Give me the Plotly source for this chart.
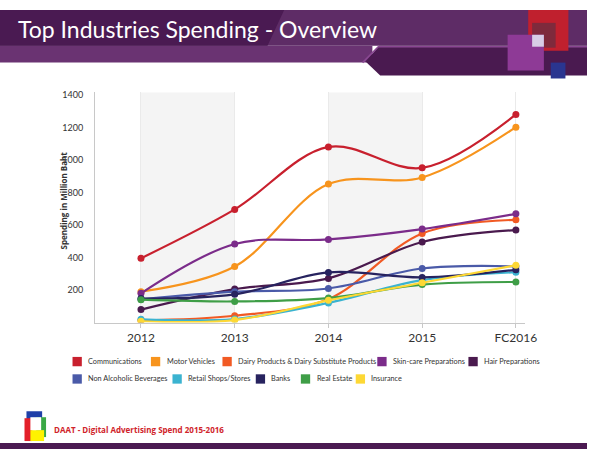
import plotly.graph_objects as go

# data (million baht)
years = ["2012", "2013", "2014", "2015", "FC2016"]

communications = [396, 697, 1082, 953, 1282]
motor_vehicles = [190, 345, 853, 894, 1204]
dairy_products = [14, 42, 145, 549, 633]
skin_care = [180, 484, 512, 576, 670]
hair_preparations = [80, 206, 272, 496, 570]
non_alcoholic = [143, 190, 210, 333, 346]
retail_shops = [20, 22, 121, 261, 310]
banks = [148, 174, 309, 278, 325]
real_estate = [141, 130, 151, 234, 250]
insurance = [8, 15, 137, 245, 353]

names = ["Communications", "Motor Vehicles", "Dairy Products & Dairy Substitute Products",
         "Skin-care Preparations", "Hair Preparations", "Non Alcoholic Beverages",
         "Retail Shops/Stores", "Banks", "Real Estate", "Insurance"]
series = [communications, motor_vehicles, dairy_products, skin_care, hair_preparations,
          non_alcoholic, retail_shops, banks, real_estate, insurance]
colors = ["#c8202e", "#f7941d", "#f15a24", "#7b2c8a", "#4a1a4e",
          "#4a5aa8", "#3bb3d0", "#27235f", "#3f9e47", "#fdd835"]

W, H = 599, 449


def px(x):
    return x / W


def py(y):
    return 1 - y / H


fig = go.Figure()

for name, vals, col in zip(names, series, colors):
    fig.add_scatter(
        x=years, y=vals, name=name, mode="lines+markers",
        line=dict(color=col, width=2.2, shape="spline", smoothing=1),
        marker=dict(color=col, size=7),
        showlegend=False, hoverinfo="x+y+name",
    )

shapes = []
# shaded bands 2012-2013 and 2014-2015
for x0, x1 in [(0, 1), (2, 3)]:
    shapes.append(dict(type="rect", xref="x", yref="y domain", x0=x0, x1=x1, y0=0, y1=1,
                       fillcolor="#f4f4f4", line_width=0, layer="below"))


def rect(x0, y0, x1, y1, color):
    return dict(type="rect", xref="paper", yref="paper", x0=px(x0), x1=px(x1),
                y0=py(y1), y1=py(y0), fillcolor=color, line_width=0, layer="above")


def poly(points, color):
    d = "M " + " L ".join(f"{px(x)},{py(y)}" for x, y in points) + " Z"
    return dict(type="path", xref="paper", yref="paper", path=d, fillcolor=color,
                line=dict(width=0), layer="above")


# header banner
shapes += [
    rect(0, 7, 599, 43, "#5e2c66"),
    rect(0, 43, 380, 60, "#6a3372"),
    poly([(0, 7), (290, 7), (273, 43), (0, 43)], "#4a1a52"),
    poly([(387, 43), (599, 43), (599, 73), (388, 73), (373, 59)], "#4a1a50"),
    dict(type="path", xref="paper", yref="paper",
         path=f"M {px(370)},{py(60)} L {px(386)},{py(44)} L {px(599)},{py(44)}",
         line=dict(color="#8a4892", width=1.5), layer="above"),
    rect(539, 7, 580, 48, "#c0202e"),
    rect(543, 20, 567, 45, "#7e2a3c"),
    rect(518, 32, 555, 68, "#8e3a96"),
    rect(543, 32, 555, 44, "#d8cde6"),
    rect(562, 60, 577, 76, "#2a3590"),
]

# footer bar and logo
shapes += [
    rect(0, 443, 599, 449, "#4b1a52"),
    rect(27, 411, 43, 427, "#1f3fa8"),
    rect(37, 417, 47, 437, "#3aa845"),
    rect(25, 418, 33, 441, "#e3202a"),
    rect(31, 430, 45, 441, "#fff200"),
    rect(31, 417, 42, 430, "#ffffff"),
]

annotations = [
    dict(text="Top Industries Spending - Overview", xref="paper", yref="paper",
         x=px(16), y=py(26), xanchor="left", yanchor="middle", showarrow=False,
         font=dict(family="Lato", size=23, color="#ffffff")),
    dict(text="<b>Spending in Million Baht</b>", xref="paper", yref="paper",
         x=px(57), y=py(147), textangle=-90, showarrow=False,
         font=dict(family="Open Sans", size=8, color="#333333")),
    dict(text="<b>DAAT - Digital Advertising Spend 2015-2016</b>", xref="paper", yref="paper",
         x=px(53), y=py(429), xanchor="left", yanchor="middle", showarrow=False,
         font=dict(family="Open Sans", size=8, color="#d0232a")),
]

# legend drawn as squares + labels in two rows
legend_x = [74, 154, 227, 385, 478, 74, 176, 261, 307, 363]
legend_y = [361, 361, 361, 361, 361, 378.5, 378.5, 378.5, 378.5, 378.5]
for name, col, lx, ly in zip(names, colors, legend_x, legend_y):
    shapes.append(rect(lx, ly - 4.7, lx + 9.5, ly + 4.7, col))
    annotations.append(dict(text=name, xref="paper", yref="paper", x=px(lx + 14), y=py(ly),
                            xanchor="left", yanchor="middle", showarrow=False,
                            font=dict(family="Lato", size=7.3, color="#333333")))

fig.update_layout(
    width=W, height=H, autosize=False,
    margin=dict(l=0, r=0, t=0, b=0),
    paper_bgcolor="#ffffff", plot_bgcolor="rgba(0,0,0,0)",
    shapes=shapes, annotations=annotations,
    xaxis=dict(domain=[px(97), px(536)], range=[-0.49, 4.1], type="category",
               showgrid=True, gridcolor="#eaeaea", gridwidth=1,
               showline=True, linecolor="#c8c8c8", linewidth=1.2,
               ticks="outside", ticklen=4, tickcolor="#c8c8c8",
               tickfont=dict(family="Lato", size=12, color="#333333"),
               fixedrange=True),
    yaxis=dict(domain=[py(321.7), py(90)], range=[0, 1418],
               tickvals=[200, 400, 600, 800, 1000, 1200, 1400],
               showgrid=False, zeroline=False,
               showline=True, linecolor="#c8c8c8", linewidth=1.2,
               ticks="", ticklabelstandoff=9,
               tickfont=dict(family="Lato", size=9, color="#333333"),
               fixedrange=True),
    showlegend=False,
)

fig.write_html(
    "out.html",
    config={"displayModeBar": False, "responsive": False},
    post_script="document.body.style.margin='0';document.body.style.overflow='hidden';",
)
